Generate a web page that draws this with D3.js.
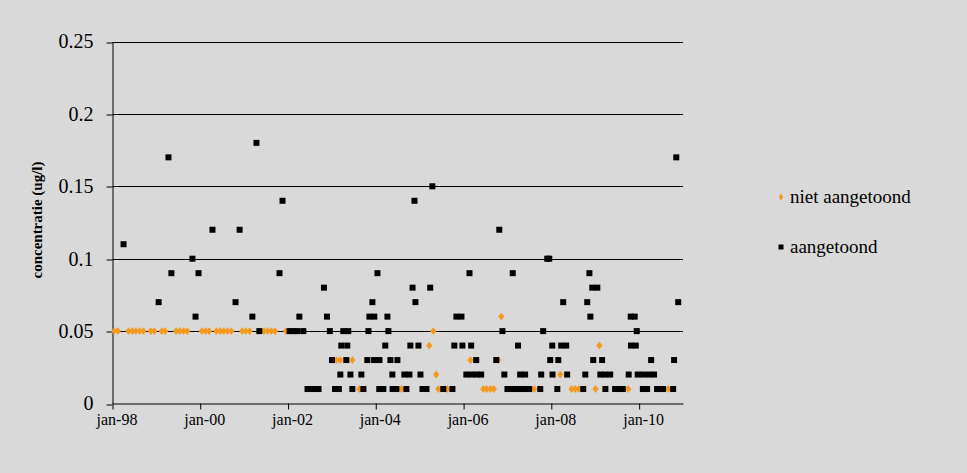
<!DOCTYPE html>
<html><head><meta charset="utf-8">
<script src="https://cdn.jsdelivr.net/npm/d3@7"></script>
<style>
html,body{margin:0;padding:0;background:#d9d9d9;}
svg{display:block;font-family:"Liberation Serif","Times New Roman",serif;}
</style></head><body>
<script>
// ---- data ----
const seriesNames = ["niet aangetoond", "aangetoond"];
const yTickValues = [0, 0.05, 0.1, 0.15, 0.2, 0.25];
const yTickLabels = ["0", "0.05", "0.1", "0.15", "0.2", "0.25"];
const xTickDates = ["1998-01-01","2000-01-01","2002-01-01","2004-01-01","2006-01-01","2008-01-01","2010-01-01"];
const xTickLabels = ["jan-98","jan-00","jan-02","jan-04","jan-06","jan-08","jan-10"];
const yAxisTitle = "concentratie (ug/l)";

// niet aangetoond (orange)
const nietDates = [
"1998-01-15","1998-02-15","1998-05-15","1998-06-15","1998-07-15","1998-08-15","1998-09-15",
"1998-11-15","1998-12-15","1999-02-15","1999-03-15","1999-06-15","1999-07-15","1999-08-15","1999-09-15",
"2000-01-15","2000-02-15","2000-03-15","2000-05-15","2000-06-15","2000-07-15","2000-08-15","2000-09-15",
"2000-12-15","2001-01-15","2001-02-15","2001-06-15","2001-07-15","2001-08-15","2001-09-15","2001-12-15",
"2003-02-09","2003-03-12","2003-06-20","2003-08-17","2004-08-02","2005-03-21","2005-04-24","2005-05-18",
"2005-06-05","2005-08-18","2006-02-27","2006-06-14","2006-07-12","2006-08-12","2006-09-09","2006-10-16",
"2006-11-11","2007-08-12","2008-03-15","2008-06-18","2008-07-18","2008-08-17","2009-01-03","2009-02-04",
"2009-10-02","2010-09-01"];
const nietValues = [
0.05,0.05,0.05,0.05,0.05,0.05,0.05,
0.05,0.05,0.05,0.05,0.05,0.05,0.05,0.05,
0.05,0.05,0.05,0.05,0.05,0.05,0.05,0.05,
0.05,0.05,0.05,0.05,0.05,0.05,0.05,0.05,
0.03,0.03,0.03,0.01,0.01,0.04,0.05,0.02,
0.01,0.01,0.03,0.01,0.01,0.01,0.01,0.03,
0.06,0.01,0.02,0.01,0.01,0.01,0.01,0.04,
0.01,0.01];

// aangetoond (black)
const aangDates = [
"1998-04-03","1999-01-20","1999-04-12","1999-05-06","1999-10-28","1999-11-23","1999-12-18","2000-04-12",
"2000-10-21","2000-11-24","2001-03-10","2001-04-13","2001-05-07","2001-10-22","2001-11-16","2002-01-14",
"2002-02-16","2002-03-19","2002-04-05","2002-05-08","2002-06-12","2002-07-15","2002-08-12","2002-09-12",
"2002-10-27","2002-11-21","2002-12-15","2003-01-02","2003-01-27","2003-02-28","2003-03-12","2003-03-20",
"2003-04-06","2003-05-01","2003-05-09","2003-05-17","2003-06-04","2003-06-20","2003-09-03","2003-09-20",
"2003-10-23","2003-11-01","2003-11-09","2003-12-04","2003-12-20","2003-12-18","2004-01-15","2004-02-01",
"2004-01-30","2004-03-04","2004-03-20","2004-04-07","2004-04-15","2004-05-02","2004-05-18","2004-05-20",
"2004-06-21","2004-06-29","2004-08-26","2004-09-12","2004-10-07","2004-10-15","2004-11-02","2004-11-18",
"2004-11-26","2004-12-21","2005-01-07","2005-01-24","2005-02-26","2005-03-29","2005-04-16","2005-07-16",
"2005-09-30","2005-10-16","2005-11-02","2005-12-14","2005-12-22","2006-01-24","2006-02-19","2006-03-05",
"2006-03-07","2006-04-16","2006-04-18","2006-05-27","2006-09-30","2006-10-25","2006-11-20","2006-12-06",
"2007-01-01","2007-02-01","2007-03-01","2007-04-01","2007-05-01","2007-06-01","2007-07-01","2007-02-14",
"2007-03-30","2007-04-17","2007-05-28","2007-10-01","2007-10-09","2007-10-25","2007-11-28","2007-12-15",
"2007-12-23","2008-01-09","2008-01-11","2008-02-20","2008-02-28","2008-03-23","2008-04-09","2008-05-04",
"2008-05-12","2008-09-23","2008-10-10","2008-10-26","2008-11-13","2008-11-21","2008-12-07","2008-12-15",
"2009-01-18","2009-02-12","2009-02-27","2009-03-24","2009-03-26","2009-05-05","2009-06-15","2009-07-15",
"2009-08-18","2009-10-06","2009-10-23","2009-10-25","2009-11-25","2009-12-04","2009-12-12","2009-12-20",
"2010-02-01","2010-02-03","2010-03-08","2010-03-24","2010-04-11","2010-05-05","2010-05-30","2010-06-28",
"2010-07-19","2010-10-11","2010-10-19","2010-11-06","2010-11-22"];
const aangValues = [
0.11,0.07,0.17,0.09,0.10,0.06,0.09,0.12,
0.07,0.12,0.06,0.18,0.05,0.09,0.14,0.05,
0.05,0.05,0.06,0.05,0.01,0.01,0.01,0.01,
0.08,0.06,0.05,0.03,0.01,0.01,0.02,0.04,
0.05,0.03,0.04,0.05,0.02,0.01,0.02,0.01,
0.03,0.05,0.06,0.07,0.06,0.03,0.09,0.03,
0.01,0.01,0.04,0.06,0.05,0.03,0.02,0.01,
0.01,0.03,0.02,0.01,0.02,0.04,0.08,0.14,
0.07,0.04,0.02,0.01,0.01,0.08,0.15,0.01,
0.01,0.04,0.06,0.06,0.04,0.02,0.09,0.04,
0.02,0.03,0.02,0.02,0.03,0.12,0.05,0.02,
0.01,0.01,0.01,0.01,0.01,0.01,0.01,0.09,
0.04,0.02,0.02,0.01,0.02,0.05,0.10,0.10,
0.03,0.04,0.02,0.01,0.03,0.04,0.07,0.04,
0.02,0.01,0.02,0.07,0.09,0.06,0.08,0.03,
0.08,0.02,0.03,0.02,0.01,0.02,0.01,0.01,
0.01,0.02,0.06,0.04,0.06,0.04,0.05,0.02,
0.01,0.02,0.01,0.02,0.03,0.02,0.01,0.01,
0.01,0.01,0.03,0.17,0.07];

// ---- chart ----
const W = 967, H = 473;
const parse = d3.timeParse("%Y-%m-%d");
const svg = d3.select("body").append("svg").attr("width", W).attr("height", H);
svg.append("rect").attr("width", W).attr("height", H).attr("fill", "#d9d9d9");

const x = d3.scaleTime().domain([parse("1998-01-01"), parse("2011-01-01")]).range([112.5, 683]);
const y = d3.scaleLinear().domain([0, 0.25]).range([403.5, 41.5]);

// gridlines
svg.append("g").selectAll("line").data(yTickValues.slice(1)).join("line")
  .attr("x1", x.range()[0]).attr("x2", x.range()[1])
  .attr("y1", d => Math.round(y(d)) + 0.5).attr("y2", d => Math.round(y(d)) + 0.5)
  .attr("stroke", "#000").attr("stroke-width", 1);

// y axis
const yAxis = d3.axisLeft(y).tickValues(yTickValues)
  .tickFormat((d, i) => yTickLabels[i]).tickSize(6).tickSizeOuter(0).tickPadding(13);
const gy = svg.append("g").attr("transform", `translate(${x.range()[0]},0)`).call(yAxis);
gy.select(".domain").attr("stroke", "#000");
gy.selectAll(".tick line").attr("stroke", "#000").attr("transform", d => `translate(0,${Math.round(y(d)) + 0.5 - y(d)})`);
gy.selectAll(".tick text").attr("font-family", "Liberation Serif").attr("font-size", 20).attr("fill", "#000");

// x axis
const xAxis = d3.axisBottom(x).tickValues(xTickDates.map(parse))
  .tickFormat((d, i) => xTickLabels[i]).tickSize(6).tickSizeOuter(0).tickPadding(4);
const gx = svg.append("g").attr("transform", `translate(0,${y(0)})`).call(xAxis);
gx.select(".domain").attr("stroke", "#000");
gx.selectAll(".tick line").attr("stroke", "#000");
gx.selectAll(".tick text").attr("font-family", "Liberation Serif").attr("font-size", 16)
  .attr("fill", "#000").attr("dx", 4);

// y axis title
svg.append("text").attr("transform", `translate(42,220) rotate(-90)`)
  .attr("text-anchor", "middle").attr("font-family", "Liberation Serif")
  .attr("font-weight", "bold").attr("font-size", 15).text(yAxisTitle);

const orange = "#f39a1e";
const nietData = nietDates.map((d, i) => ({date: parse(d), v: nietValues[i]}));
const aangData = aangDates.map((d, i) => ({date: parse(d), v: aangValues[i]}));

const diamond = d3.symbol().type(d3.symbolDiamond).size(22);
svg.append("g").selectAll("path").data(nietData).join("path")
  .attr("d", diamond)
  .attr("transform", d => `translate(${x(d.date)},${y(d.v)}) scale(1.25,0.9)`)
  .attr("fill", orange);

svg.append("g").selectAll("rect").data(aangData).join("rect")
  .attr("x", d => x(d.date) - 3).attr("y", d => y(d.v) - 3)
  .attr("width", 6).attr("height", 6).attr("fill", "#000");

// legend
const leg = svg.append("g");
leg.append("path").attr("d", d3.symbol().type(d3.symbolDiamond).size(16))
  .attr("transform", "translate(781,197)").attr("fill", orange);
leg.append("text").attr("x", 790).attr("y", 203).attr("font-size", 19).attr("fill", "#000").text(seriesNames[0]);
leg.append("rect").attr("x", 778.5).attr("y", 244.5).attr("width", 5).attr("height", 5).attr("fill", "#000");
leg.append("text").attr("x", 790).attr("y", 253).attr("font-size", 19).attr("fill", "#000").text(seriesNames[1]);
</script>
</body></html>
